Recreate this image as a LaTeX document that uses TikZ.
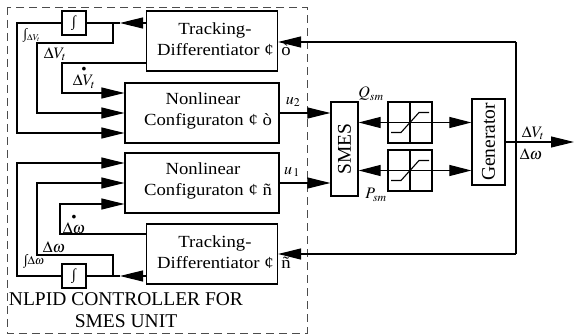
\documentclass[tikz,border=0pt]{standalone}
\usepackage{amsmath}
\usepackage{graphicx}
\usepackage{mathptmx}
\usepackage[no-math]{fontspec}
\setmainfont{Liberation Serif}
\usetikzlibrary{arrows.meta}
\newcommand{\wide}[1]{\scalebox{1.1}[1]{#1}}
\begin{document}
\begin{tikzpicture}[x=1pt,y=-1pt,
  box/.style={draw,line width=1.2pt,inner sep=0pt},
  txt/.style={inner sep=0pt,font=\fontsize{17}{20}\selectfont},
  big/.style={inner sep=0pt,font=\fontsize{19.5}{22}\selectfont},
  ln/.style={line width=1.1pt},
  arr/.style={ln,-{Triangle[length=23pt,width=11pt]}},
  dbl/.style={ln,{Triangle[length=22pt,width=11pt]}-{Triangle[length=22pt,width=11pt]}},
  lbl/.style={inner sep=0pt,font=\fontsize{16}{18}\selectfont},
  slbl/.style={inner sep=0pt,font=\fontsize{12}{14}\selectfont},
  dashbox/.style={draw=black!70,line width=0.9pt,dash pattern=on 8pt off 5pt},
]
\useasboundingbox (0,0) rectangle (574,336);
\draw[dashbox] (7,7) rectangle (307,333);

% blocks
\node[box,minimum width=131pt,minimum height=60pt] (td2) at (212,41) {};
\node[box,minimum width=154pt,minimum height=60pt] (nc2) at (202,113) {};
\node[box,minimum width=154pt,minimum height=60pt] (nc1) at (202,183) {};
\node[box,minimum width=131pt,minimum height=60pt] (td1) at (212,254) {};
\node[box,minimum width=24pt,minimum height=24pt] (int2) at (74,23) {};
\node[box,minimum width=24pt,minimum height=24pt] (int1) at (74,276) {};
\node[box,minimum width=27pt,minimum height=94pt] (smes) at (344.5,149) {};
\node[box,minimum width=44pt,minimum height=41pt] (sat2) at (410,122.5) {};
\node[box,minimum width=44pt,minimum height=41pt] (sat1) at (410,170.5) {};
\node[box,minimum width=33pt,minimum height=86pt] (gen) at (488.5,142) {};

% block texts
\node[txt,anchor=base] (td2a) at (215,35) {\wide{Tracking-}};
\node[txt,anchor=base] (td2b) at (224,56) {\wide{Differentiator ¢\, ò}};
\node[txt,anchor=base] (nc2a) at (203,105) {\wide{Nonlinear}};
\node[txt,anchor=base] (nc2b) at (208,126) {\wide{Configuraton ¢ ò}};
\node[txt,anchor=base] (nc1a) at (203,175) {\wide{Nonlinear}};
\node[txt,anchor=base] (nc1b) at (208,196) {\wide{Configuraton ¢ ñ}};
\node[txt,anchor=base] (td1a) at (215,248) {\wide{Tracking-}};
\node[txt,anchor=base] (td1b) at (224,269) {\wide{Differentiator ¢\, ñ}};
\node[inner sep=0pt,font=\fontsize{15}{16}\selectfont] (int2t) at (int2) {∫};
\node[inner sep=0pt,font=\fontsize{15}{16}\selectfont] (int1t) at (int1) {∫};
\node[big,rotate=90] (smest) at (smes) {SMES};
\node[big,rotate=90] (gent) at (gen) {Generator};
\node[big,anchor=base] (nl1) at (126,306) {NLPID CONTROLLER FOR};
\node[big,anchor=base] (nl2) at (126,328) {SMES UNIT};

% saturation curves
\draw[ln] (sat2.north) -- (sat2.south);
\draw[ln] (sat1.north) -- (sat1.south);
\draw[ln] (sat2.center) ++(-19,10) -- ++(10,0) -- ++(18,-20) -- ++(10,0);
\draw[ln] (sat1.center) ++(-19,10) -- ++(10,0) -- ++(18,-20) -- ++(10,0);

% upper feedback wiring
\coordinate (a2) at (120,23);
\coordinate (j2) at (113,23);
\draw[arr] (td2.west |- a2) -- (a2);
\draw[ln] (a2) -- (int2.east);
\draw[arr] (j2) |- (37,43) |- (nc2.west);
\draw[arr] (int2.west) -| (17,133) -- (nc2.west |- 0,133);
\draw[arr] (td2.west |- 0,63) -| (62,93) -- (nc2.west |- 0,93);

% lower feedback wiring
\coordinate (a1) at (120,276);
\coordinate (j1) at (113,276);
\draw[arr] (td1.west |- a1) -- (a1);
\draw[ln] (a1) -- (int1.east);
\draw[arr] (j1) |- (37,255) |- (nc1.west);
\draw[arr] (int1.west) -| (17,163) -- (nc1.west |- 0,163);
\draw[arr] (td1.west |- 0,234) -| (60,204) -- (nc1.west |- 0,204);

% controller outputs
\draw[arr] (nc2.east) -- (smes.west |- nc2.east);
\draw[arr] (nc1.east) -- (smes.west |- nc1.east);

% SMES <-> generator
\draw[dbl] (smes.east |- sat2.center) -- (gen.west |- sat2.center);
\draw[dbl] (smes.east |- sat1.center) -- (gen.west |- sat1.center);

% generator output and feedback
\coordinate (ot) at (574,142);
\coordinate (vt) at (516,42);
\coordinate (vb) at (516,254);
\draw[arr] (gen.east) -- (ot);
\draw[ln] (vt) -- (vb);
\draw[arr] (vt) -- (td2.east |- vt);
\draw[arr] (vb) -- (td1.east);

% labels
\node[slbl] (l1) at (32,35) {{\fontsize{14}{14}\selectfont ∫}$_{\Delta V_t}$};
\node[lbl] (l2) at (55,54) {$\Delta V_t$};
\node[lbl] (l3) at (84,77) {$\overset{\scriptscriptstyle\bullet}{\Delta V_t}$};
\node[lbl] (l4) at (74,224) {$\overset{\scriptscriptstyle\bullet}{\Delta\omega}$};
\node[lbl] (l5) at (54,247) {$\Delta\omega$};
\node[slbl] (l6) at (34,261) {{\fontsize{14}{14}\selectfont ∫}$\Delta\omega$};
\node[lbl] (l7) at (293,102) {$u_2$};
\node[lbl] (l8) at (292,172) {$u_{\,1}$};
\node[lbl] (l9) at (371,94) {$Q_{sm}$};
\node[lbl] (l10) at (376,195) {$P_{sm}$};
\node[lbl] (l11) at (533,133) {$\Delta V_t$};
\node[lbl] (l12) at (531,154) {$\Delta\omega$};
\end{tikzpicture}
\end{document}
